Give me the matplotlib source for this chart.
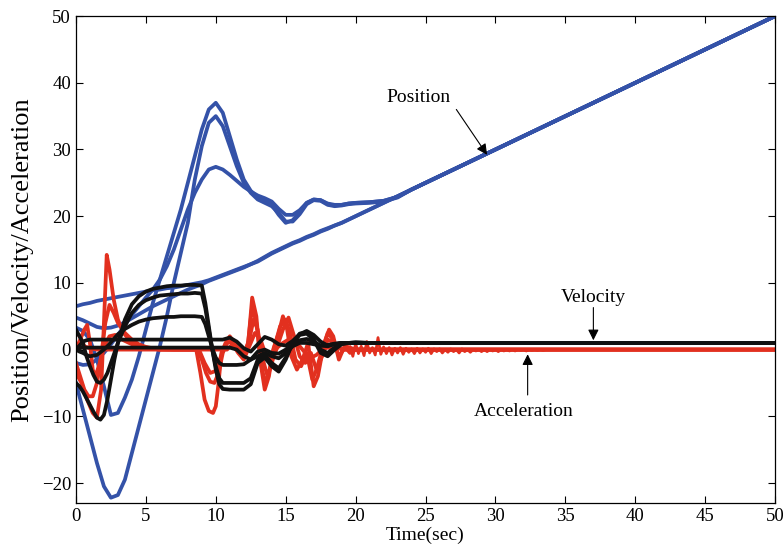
import matplotlib
matplotlib.use("Agg")
import matplotlib.pyplot as plt

# time grid for position / velocity traces
pos_t = [0, 0.5, 1, 1.5, 2, 2.5, 3, 3.5, 4, 4.5, 5, 5.5, 6, 6.5, 7, 7.5, 8, 8.5, 9, 9.5,
         10, 10.5, 11, 11.5, 12, 12.5, 13, 13.5, 14, 14.5, 15, 15.5, 16, 16.5, 17, 17.5,
         18, 18.5, 19, 19.5, 20, 21, 22, 23, 24, 25, 30, 35, 40, 45, 50]

tail = [20.0, 21.0, 22.0, 23.0, 24.0, 25.0, 30, 35, 40, 45, 50]

pos_slow = [6.5, 6.8, 7.0, 7.3, 7.5, 7.7, 7.9, 8.1, 8.3, 8.5, 8.7, 8.9, 9.0, 9.2, 9.3, 9.5,
            9.7, 9.9, 10.1, 10.4, 10.8, 11.2, 11.6, 12.0, 12.4, 12.8, 13.2, 13.8, 14.4, 14.9,
            15.4, 15.9, 16.3, 16.8, 17.2, 17.7, 18.1, 18.6, 19.0, 19.5] + tail
pos_low = [4.8, 4.4, 3.9, 3.4, 3.2, 3.3, 3.6, 4.1, 4.7, 5.3, 5.9, 6.5, 7.0, 7.5, 8.0, 8.5,
           9.0, 9.4, 9.8, 10.3, 10.7, 11.1, 11.5, 11.9, 12.3, 12.8, 13.3, 13.9, 14.5, 15.0,
           15.5, 16.0, 16.4, 16.9, 17.3, 17.8, 18.2, 18.6, 19.0, 19.5] + tail
pos_a = [-5, -9, -13, -17, -20.5, -22.2, -21.8, -19.5, -15.5, -11.5, -7.5, -3.5, 0.5, 5,
         10, 14.5, 19, 25.5, 30.5, 34, 35, 33.5, 30.5, 27.5, 25, 23.5, 22.5, 22, 21.5, 20.5,
         19.2, 19.2, 20.3, 21.8, 22.4, 22.3, 21.7, 21.5, 21.6, 21.8,
         21.9, 22.0, 22.2, 22.8, 24.0, 25.0, 30, 35, 40, 45, 50]
pos_b = [3.3, 2.8, 1.5, -1.5, -5.5, -9.8, -9.5, -7.2, -4.5, -1, 3, 7, 10.5, 14, 17.5, 21,
         25, 29, 33, 36, 37, 35.5, 32, 28.5, 25.5, 23.8, 22.8, 22.3, 21.7, 20.2, 19.0, 19.4,
         20.6, 22.0, 22.5, 22.4, 21.8, 21.6, 21.7, 21.9,
         22.0, 22.1, 22.3, 22.9, 24.0, 25.0, 30, 35, 40, 45, 50]
pos_c = [-2, -2.3, -2.2, -1.5, -0.5, 0.8, 2.2, 3.7, 5.2, 6.5, 7.8, 9, 10.5, 12.5, 15, 18,
         21, 23.5, 25.5, 27, 27.4, 27, 26.2, 25.3, 24.4, 23.7, 23.1, 22.7, 22.2, 21.1, 20.2,
         20.2, 20.9, 22.0, 22.5, 22.4, 21.9, 21.7, 21.7, 21.9,
         22.0, 22.1, 22.3, 22.9, 24.0, 25.0, 30, 35, 40, 45, 50]

vel_t = [0, 0.25, 0.5, 0.75, 1, 1.25, 1.5, 1.75, 2, 2.25, 2.5, 2.75, 3, 3.5, 4, 4.5, 5,
         5.5, 6, 6.5, 7, 7.5, 8, 8.5, 9, 9.25, 9.5, 9.75, 10, 10.25, 10.5, 11, 11.5, 12,
         12.5, 13, 13.5, 14, 14.5, 15, 15.5, 16, 16.5, 17, 17.5, 18, 18.5, 19, 19.5, 20,
         21, 22, 23, 24, 25, 50]
vel_a = [-5, -5.5, -6.3, -7.3, -8.3, -9.3, -10.2, -10.5, -9.8, -7.5, -4.5, -1.5, 1, 4.5,
         6.8, 8.0, 8.7, 9.1, 9.3, 9.5, 9.6, 9.6, 9.7, 9.7, 9.6, 7, 3.5, 0, -3, -5.2, -5.9,
         -6, -6, -6, -5.2, -2, -1.2, -2.5, -3.3, -1.5, 1, 2.4, 2.6, 1.5, -0.5, -1, 0, 0.8,
         1, 1.1, 1, 1, 1, 1, 1, 1]
vel_b = [3, 2, 1, -1, -2.5, -3.8, -4.8, -5, -4.5, -3.5, -2, -0.5, 1, 3.5, 5.5, 6.7, 7.4,
         7.8, 8.1, 8.2, 8.3, 8.4, 8.4, 8.5, 8.4, 6.2, 3, 0, -2.5, -4.3, -5, -5, -5, -5, -4.3,
         -1.5, -0.8, -2, -2.8, -1.2, 1, 2.2, 2.4, 1.5, 0, -0.5, 0.3, 0.9, 1, 1.05,
         1, 1, 1, 1, 1, 1]
vel_c = [0, -0.3, -0.5, -0.8, -1, -0.9, -0.8, -0.4, 0, 0.5, 1.1, 1.7, 2.3, 3.1, 3.7, 4.2,
         4.5, 4.7, 4.8, 4.9, 4.9, 5, 5, 5, 4.9, 3.8, 2, 0.2, -1.2, -2, -2.3, -2.3, -2.3,
         -2.2, -1.5, -0.3, 0, -0.5, -0.6, 0, 0.8, 1.4, 1.6, 1.2, 0.6, 0.5, 0.8, 1, 1, 1,
         1, 1, 1, 1, 1, 1]
vel_d = [0, 0.6, 1.2, 1.4, 1.5, 1.5, 1.5, 1.5, 1.5, 1.5, 1.5, 1.5, 1.5, 1.5, 1.5, 1.5, 1.5,
         1.5, 1.5, 1.5, 1.5, 1.5, 1.5, 1.5, 1.5, 1.5, 1.5, 1.5, 1.5, 1.5, 1.5, 1.8, 1.2, 0.2,
         -0.3, 0.8, 1.9, 1.5, 0.8, 0.6, 1.3, 2.3, 2.8, 2.2, 1.2, 0.6, 0.8, 1, 1, 1,
         1, 1, 1, 1, 1, 1]
vel_e = [0, 0.2, 0.3, 0.3, 0.3, 0.3, 0.3, 0.3, 0.3, 0.3, 0.3, 0.3, 0.3, 0.3, 0.3, 0.3, 0.3,
         0.3, 0.3, 0.3, 0.3, 0.3, 0.3, 0.3, 0.3, 0.3, 0.3, 0.3, 0.3, 0.3, 0.3, 0.3, 0, -1,
         -1.5, -1, -0.5, -1, -1.3, -0.5, 0.5, 1, 1, 0.8, 0.6, 0.7, 0.9, 1, 1, 1,
         1, 1, 1, 1, 1, 1]

# acceleration traces (own sample points)
acc1_t = [0, 0.4, 0.8, 1.2, 1.5, 1.8, 2.0, 2.2, 2.4, 2.7, 3.0, 3.4, 3.8, 4.3, 5.0, 6.0, 7.0,
          8.6, 8.9, 9.2, 9.5, 9.8, 10.0, 10.2, 10.4, 10.7, 11.0, 11.5, 12.0, 12.3, 12.6,
          12.9, 13.2, 13.5, 13.8, 14.1, 14.5, 14.8, 15.1, 15.4, 15.8, 16.2, 16.6, 17.0,
          17.3, 17.7, 18.1, 18.4, 18.8, 19.2, 19.6, 20.0, 50]
acc1 = [-3.5, -5, -7.5, -9.5, -10.2, -6, 4, 14.2, 12, 7.5, 4.5, 2.5, 1.5, 0.8, 0.3, 0.1, 0,
        0, -3.5, -7.5, -9.2, -9.5, -8.5, -5, -0.5, 1, 2, 0.5, -0.5, 0.5, 7.8, 5, -2, -6,
        -4, 0, 2.5, 5, 3, -1, -3, -1.5, 1, -5.5, -4, 0.5, 3, 2, -1.5, 0.5, -0.5, 0, 0]
acc2_t = [0, 0.3, 0.6, 0.9, 1.2, 1.5, 1.8, 2.1, 2.4, 2.7, 3.0, 3.5, 4.0, 4.5, 5.0, 6.0,
          8.7, 9.0, 9.3, 9.6, 9.9, 10.2, 10.5, 10.8, 11.2, 11.6, 12.0, 12.3, 12.6, 12.9,
          13.2, 13.5, 13.8, 14.2, 14.6, 15.0, 15.3, 15.7, 16.1, 16.5, 16.9, 17.2, 17.6,
          18.0, 18.4, 18.8, 19.3, 20, 50]
acc2 = [-2, -4, -6, -7, -7, -5, -1, 4, 6.7, 5.5, 4, 2.5, 1.5, 0.8, 0.4, 0, 0, -1.5, -3.5,
        -4.8, -5, -3.5, -0.5, 1, 1.5, 0, -1, 1, 6.5, 4, -1.5, -5, -3.5, 0.5, 3.5, 4.5, 2.5,
        -1.5, -2.5, -0.5, -4.5, -3, 0, 2.5, 1.5, -1, 0.5, 0, 0]
acc3_t = [0, 0.3, 0.6, 0.8, 1.0, 1.2, 1.4, 1.7, 2.0, 2.4, 2.8, 3.3, 4.0, 5.0, 6.0, 8.8,
          9.2, 9.6, 10.0, 10.4, 10.7, 11.0, 11.5, 12.0, 12.4, 12.7, 13.0, 13.3, 13.7, 14.0,
          14.4, 14.8, 15.2, 15.6, 16.0, 16.4, 16.8, 17.2, 17.6, 18.0, 18.5, 19.0, 20, 50]
acc3 = [0, 1.5, 3, 3.7, 1, -3, -4, -2, 0.5, 2, 2.2, 1.5, 0.8, 0.3, 0, 0, -2, -3.5, -3.2,
        -0.8, 0.8, 1.2, 0.2, -0.8, 1.5, 4.5, 3, -1, -4, -2, 0.5, 3, 4.8, 2, -1, -2, -0.5,
        -3, -1, 1.5, 1, 0, 0, 0]
acc4_t = [0, 0.3, 0.6, 1.0, 1.5, 2.5, 10.8, 11.2, 11.6, 12.0, 12.4, 12.8, 13.2, 13.6, 14.0,
          14.4, 14.8, 15.2, 15.6, 16.0, 16.4, 16.8, 17.2, 17.6, 18.0, 18.4, 18.8, 19.2,
          19.6, 20, 50]
acc4 = [2.5, 2, 0.5, 0.2, 0, 0, 0, 0.8, -0.5, -1.5, 0.5, 2.5, 1.5, -1, -1.2, 0.3, 1, 1.5,
        1.2, 0.5, -0.5, -1.2, -0.8, 0, 0.3, 0.1, 0.2, 0, 0, 0, 0]
# residual jitter of the acceleration after t = 20
acc_noise_t = [19.6, 19.8, 20.0, 20.2, 20.4, 20.6, 20.8, 21.0, 21.2, 21.4, 21.6, 21.8, 22.0,
               22.2, 22.4, 22.6, 22.8, 23.0, 23.2, 23.4, 23.6, 23.8, 24.0, 24.2, 24.4, 24.6,
               24.8, 25.0, 25.2, 25.4, 25.6, 25.8, 26.0, 26.2, 26.4, 26.6, 26.8, 27.0, 27.2,
               27.4, 27.6, 27.8, 28.0, 28.2, 28.4, 28.6, 28.8, 29.0, 29.2, 29.4, 29.6, 29.8,
               30.0, 30.2, 30.4, 30.6, 30.8, 31.0, 31.2, 31.4, 31.6, 31.8, 32.0, 32.2, 32.4,
               32.6, 32.8, 33.0, 33.2, 33.4, 33.6, 33.8]
acc_noise = [0.4, -1.0, 0.9, -0.6, 0.5, -0.9, 1.2, -0.5, 0.3, -0.8, 1.8, -0.7, 0.4, -0.6,
             0.3, -0.8, 0.2, -0.5, 0.3, -0.7, 0.2, -0.4, 0.1, -0.6, 0.2, -0.5, 0.1, -0.4,
             0.2, -0.6, 0.1, -0.3, 0.1, -0.5, 0.0, -0.4, 0.1, -0.3, 0.0, -0.5, 0.1, -0.3,
             0.0, -0.4, 0.0, -0.2, 0.0, -0.3, 0.0, -0.3, 0.0, -0.2, 0.0, -0.3, 0.0, -0.2,
             0.0, -0.2, 0.0, -0.2, 0.0, -0.1, 0.0, -0.2, 0.0, -0.1, 0.0, -0.1, 0.0, -0.1,
             0.0, 0.0]

blue = '#3452a8'
red = '#e2301f'
black = '#111111'
lw = 2.7

plt.rcParams['font.family'] = ['Liberation Serif', 'DejaVu Serif']

fig = plt.figure(figsize=(7.83, 5.54), dpi=100)
ax = fig.add_axes([0.097, 0.092, 0.893, 0.879])

for y in [pos_slow, pos_low, pos_c, pos_a, pos_b]:
    ax.plot(pos_t, y, color=blue, lw=lw, solid_joinstyle='round')

ax.plot(acc_noise_t, acc_noise, color=red, lw=2.0)
for t, y in [(acc4_t, acc4), (acc3_t, acc3), (acc2_t, acc2), (acc1_t, acc1)]:
    ax.plot(t, y, color=red, lw=lw, solid_joinstyle='round')

for y in [vel_e, vel_d, vel_c, vel_b, vel_a]:
    ax.plot(vel_t, y, color=black, lw=lw, solid_joinstyle='round')

ax.set_xlim(0, 50)
ax.set_ylim(-23, 50)
ax.set_xticks(range(0, 51, 5))
ax.set_yticks(range(-20, 51, 10))
ax.set_yticklabels(['\u221220', '\u221210', '0', '10', '20', '30', '40', '50'])
ax.tick_params(direction='in', top=True, right=True, labelsize=13.5, length=5, width=0.8)
for s in ax.spines.values():
    s.set_linewidth(0.9)

ax.set_xlabel('Time(sec)', fontsize=14, labelpad=1)
ax.set_ylabel('Position/Velocity/Acceleration', fontsize=19, labelpad=6)

arrow = dict(arrowstyle='-|>', color='k', lw=0.8, mutation_scale=16, shrinkA=0, shrinkB=0)
ax.text(24.5, 37.8, 'Position', fontsize=14, ha='center', va='center')
ax.annotate('', xy=(29.4, 29.2), xytext=(27.2, 36), arrowprops=arrow)
ax.text(37, 7.8, 'Velocity', fontsize=14, ha='center', va='center')
ax.annotate('', xy=(37, 1.4), xytext=(37, 6.3), arrowprops=arrow)
ax.text(32, -9.3, 'Acceleration', fontsize=14, ha='center', va='center')
ax.annotate('', xy=(32.3, -0.7), xytext=(32.3, -6.8), arrowprops=arrow)

fig.savefig('out.png', dpi=100)
